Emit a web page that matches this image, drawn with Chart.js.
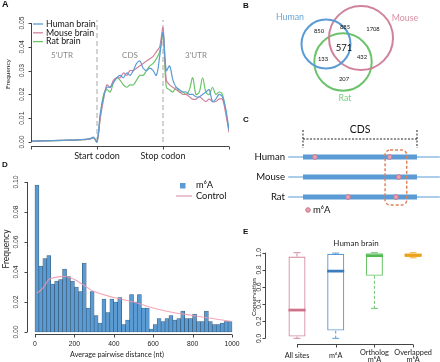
<!DOCTYPE html>
<html><head><meta charset="utf-8">
<script src="https://cdn.jsdelivr.net/npm/chart.js@4.4.0/dist/chart.umd.min.js"></script>
<style>
html,body{margin:0;padding:0;background:#fff;width:440px;height:362px;overflow:hidden;position:relative}
canvas{position:absolute}
</style></head><body>
<canvas id="cA" width="235" height="170" style="left:0px;top:0px"></canvas>
<canvas id="cD" width="240" height="204" style="left:0px;top:158px"></canvas>
<canvas id="cB" width="200" height="110" style="left:240px;top:0px"></canvas>
<canvas id="cC" width="200" height="110" style="left:240px;top:110px"></canvas>
<canvas id="cE" width="200" height="142" style="left:240px;top:220px"></canvas>
<script>
// ---------------- DATA ----------------
// Panel A: metagene profile (0-1 5'UTR, 1-2 CDS, 2-3 3'UTR)
const metaPos = [0,0.05,0.1,0.15,0.2,0.25,0.3,0.35,0.4,0.45,0.5,0.55,0.6,0.65,0.7,0.75,0.8,0.85,0.9,0.95,1,1.05,1.1,1.15,1.2,1.25,1.3,1.35,1.4,1.45,1.5,1.55,1.6,1.65,1.7,1.75,1.8,1.85,1.9,1.95,2,2.05,2.1,2.15,2.2,2.25,2.3,2.35,2.4,2.45,2.5,2.55,2.6,2.65,2.7,2.75,2.8,2.85,2.9,2.95,3];
const humanBrain = [0.0004,0.0004,0.0005,0.0005,0.0005,0.0006,0.0006,0.0006,0.0007,0.0007,0.0007,0.0008,0.0008,0.0008,0.0009,0.0010,0.0011,0.0012,0.0015,0.0020,0.0000,
  0.012,0.019,0.023,0.023,0.025,0.027,0.028,0.027,0.029,0.028,0.030,0.033,0.034,0.031,0.030,0.031,0.030,0.028,0.036,0.046,
  0.030,0.032,0.026,0.023,0.022,0.021,0.021,0.020,0.020,0.019,0.019,0.020,0.021,0.022,0.017,0.018,0.020,0.019,0.014,0.005];
const mouseBrain = [0.0003,0.0004,0.0004,0.0005,0.0005,0.0005,0.0006,0.0006,0.0006,0.0007,0.0007,0.0007,0.0008,0.0008,0.0009,0.0009,0.0010,0.0011,0.0013,0.0018,0.0002,
  0.010,0.018,0.024,0.023,0.026,0.027,0.027,0.029,0.028,0.030,0.030,0.031,0.032,0.033,0.034,0.035,0.036,0.038,0.040,0.048,
  0.026,0.024,0.023,0.022,0.021,0.020,0.020,0.019,0.018,0.018,0.019,0.018,0.017,0.018,0.017,0.017,0.018,0.018,0.012,0.004];
const ratBrain = [0.0003,0.0003,0.0004,0.0004,0.0005,0.0005,0.0005,0.0006,0.0006,0.0006,0.0007,0.0007,0.0008,0.0008,0.0008,0.0009,0.0010,0.0011,0.0013,0.0017,0.0001,
  0.011,0.020,0.022,0.021,0.025,0.027,0.026,0.024,0.023,0.024,0.024,0.026,0.028,0.028,0.030,0.032,0.033,0.035,0.038,0.045,
  0.023,0.022,0.021,0.023,0.021,0.021,0.020,0.022,0.027,0.020,0.021,0.027,0.021,0.020,0.023,0.020,0.021,0.020,0.013,0.005];
const aYTicks = [0,0.01,0.02,0.03,0.04,0.05];
const aXTicks = [0,1,2,3];
const aXTickLabels = ['','Start codon','Stop codon',''];
const aRegions = ["5'UTR",'CDS',"3'UTR"];

// Panel B: Venn counts
const vennSets = ['Human','Mouse','Rat'];
const vennRegions = ['Human only','Human+Mouse','Mouse only','All three','Human+Rat','Mouse+Rat','Rat only'];
const vennCounts = [850,885,1708,571,133,432,207];

// Panel C: schematic
const geneRows = ['Human','Mouse','Rat'];
const cdsRange = [0,100];
const transcriptRange = [-13,120];
const m6aSites = [[10.5,76],[84],[39.5,81.6]];
const conservedWindow = [72,91];

// Panel D: histogram of average pairwise distance
const binStart = [0,20,40,60,80,100,120,140,160,180,200,220,240,260,280,300,320,340,360,380,400,420,440,460,480,500,520,540,560,580,600,620,640,660,680,700,720,740,760,780,800,820,840,860,880,900,920,940,960,980];
const m6aFreq = [0.098,0.044,0.049,0.051,0.032,0.034,0.035,0.042,0.037,0.034,0.030,0.027,0.046,0.016,0.027,0.011,0.006,0.022,0.013,0.022,0.020,0.023,0.005,0.008,0.025,0.020,0.025,0.016,0.016,0.002,0.005,0.009,0.007,0.009,0.011,0.008,0.009,0.014,0.009,0.009,0.012,0.007,0.007,0.014,0.007,0.005,0.005,0.006,0.007,0.007];
const controlDist = [10,30,50,70,90,150,200,250,300,400,500,600,700,800,900,1000];
const controlFreq = [0.026,0.028,0.031,0.035,0.036,0.037,0.035,0.031,0.027,0.023,0.020,0.016,0.013,0.011,0.009,0.007];
const dYTicks = [0,0.02,0.04,0.06,0.08,0.10];
const dXTicks = [0,200,400,600,800,1000];

// Panel E: conservation box plots (Human brain)
const boxGroups = [['All sites'],['m\u2076A'],['Ortholog','m\u2076A'],['Overlapped','m\u2076A']];
const boxMin = [0.00,0.00,0.35,0.94];
const boxQ1 = [0.02,0.09,0.73,0.95];
const boxMedian = [0.33,0.785,0.965,0.972];
const boxQ3 = [0.955,0.985,0.995,0.99];
const boxMax = [1.00,0.995,1.00,1.00];
const eYTicks = [0,0.2,0.4,0.6,0.8,1.0];

// ---------------- STYLE ----------------
const C_H='#5b9bd5', C_M='#d0829a', C_R='#6cc36c', C_O='#f2b234';
const NUM='"Liberation Sans", Arial, sans-serif';
const LAB='Lato, "Open Sans", sans-serif';
Chart.defaults.animation=false;
const base = (pad)=>({responsive:false,animation:false,events:[],layout:{padding:pad,autoPadding:false},
  plugins:{legend:{display:false},tooltip:{enabled:false},title:{display:false}}});

function T(ctx,s,x,y,o={}){ctx.save();ctx.font=o.font||('8px '+LAB);ctx.fillStyle=o.color||'#222';
  ctx.textAlign=o.align||'center';ctx.textBaseline=o.base||'middle';ctx.translate(x,y);if(o.rot)ctx.rotate(o.rot);
  ctx.fillText(s,0,0);ctx.restore();}
function axisY(c,ticks,labels,o){const ctx=c.ctx,ys=c.scales.y,x0=Math.round(c.chartArea.left)+0.5;
  ctx.save();ctx.strokeStyle='#444';ctx.lineWidth=1;ctx.beginPath();
  ctx.moveTo(x0,ys.getPixelForValue(ticks[0]));ctx.lineTo(x0,ys.getPixelForValue(ticks[ticks.length-1]));
  ticks.forEach(t=>{const p=Math.round(ys.getPixelForValue(t))+0.5;ctx.moveTo(x0,p);ctx.lineTo(x0-o.len,p);});
  ctx.stroke();ctx.restore();
  ticks.forEach((t,i)=>T(ctx,labels[i],x0-o.off,ys.getPixelForValue(t),{font:o.font,color:'#333',rot:-Math.PI/2}));}
function axisX(c,ticks,labels,o){const ctx=c.ctx,xs=c.scales.x,y0=Math.round(c.chartArea.bottom)-0.5;
  ctx.save();ctx.strokeStyle='#444';ctx.lineWidth=1;ctx.beginPath();
  ctx.moveTo(xs.getPixelForValue(ticks[0]),y0);ctx.lineTo(xs.getPixelForValue(ticks[ticks.length-1]),y0);
  ticks.forEach(t=>{const p=Math.round(xs.getPixelForValue(t))+0.5;ctx.moveTo(p,y0);ctx.lineTo(p,y0+o.len);});
  ctx.stroke();ctx.restore();
  ticks.forEach((t,i)=>{const lab=labels[i];if(!lab)return;const L=Array.isArray(lab)?lab:[lab];
    L.forEach((s,j)=>T(ctx,s,xs.getPixelForValue(t),y0+o.off+(j-(L.length-1)/2)*(o.lh||8),{font:o.font,color:'#222'}));});}

// ---------------- PANEL A ----------------
const decoA={id:'decoA',afterDraw(c){const ctx=c.ctx,xs=c.scales.x,ys=c.scales.y;
  axisY(c,aYTicks,aYTicks.map(v=>v.toFixed(2)),{len:3,off:9,font:'6.8px '+NUM});
  axisX(c,aXTicks,aXTickLabels,{len:3,off:10,font:'9px '+LAB});
  T(ctx,'Frequency',8,74,{rot:-Math.PI/2,font:'6.5px '+LAB});
  const rp=[0.47,1.5,2.5];
  aRegions.forEach((r,i)=>T(ctx,r,xs.getPixelForValue(rp[i]),ys.getPixelForValue(0.0365),{font:'8px '+LAB,color:'#888'}));
  c.data.datasets.slice(0,3).forEach((d,i)=>{const y=24+i*8.8;ctx.save();ctx.strokeStyle=d.borderColor;ctx.lineWidth=1.3;
    ctx.beginPath();ctx.moveTo(33,y);ctx.lineTo(43,y);ctx.stroke();ctx.restore();
    T(ctx,d.label,46,y,{align:'left',font:'8.8px '+LAB,color:'#111'});});
  T(ctx,'A',2,5,{align:'left',font:'bold 9px '+NUM,color:'#111'});}};
const pts=(xs,ys)=>xs.map((x,i)=>({x,y:ys[i]}));
new Chart(document.getElementById('cA'),{type:'line',
  data:{datasets:[
    {label:'Human brain',data:pts(metaPos,humanBrain),borderColor:C_H,borderWidth:1.2,pointRadius:0,tension:0.35},
    {label:'Mouse brain',data:pts(metaPos,mouseBrain),borderColor:C_M,borderWidth:1.2,pointRadius:0,tension:0.35},
    {label:'Rat brain',data:pts(metaPos,ratBrain),borderColor:C_R,borderWidth:1.2,pointRadius:0,tension:0.35},
    {label:'start',data:[{x:1,y:0},{x:1,y:0.0513}],borderColor:'#a8a8a8',borderWidth:1,borderDash:[5,3],pointRadius:0},
    {label:'stop',data:[{x:2,y:0},{x:2,y:0.0513}],borderColor:'#a8a8a8',borderWidth:1,borderDash:[5,3],pointRadius:0}]},
  options:Object.assign(base({left:31,top:18,right:6,bottom:23}),{
    scales:{x:{type:'linear',min:0,max:3,display:false},y:{type:'linear',min:-0.0021,max:0.0521,display:false}}}),
  plugins:[decoA]});

// ---------------- PANEL B ----------------
const vennCircles=[{x:86,y:44,r:24.5},{x:121,y:38,r:32},{x:103,y:62,r:28.7}];
const vennLabelPos=[[50,17],[165,18],[105,98]];
const vennCountPos=[[79,31],[105,27],[133,29],[104,48],[83,59],[122,57],[104,79]];
const decoB={id:'decoB',afterDraw(c){const ctx=c.ctx,xs=c.scales.x,ys=c.scales.y;
  const tc=['#6aa6d8','#d98fa3','#7ccd7c'];
  vennSets.forEach((s,i)=>T(ctx,s,xs.getPixelForValue(vennLabelPos[i][0]),ys.getPixelForValue(vennLabelPos[i][1]),{font:'8.8px '+LAB,color:tc[i]}));
  vennCounts.forEach((n,i)=>T(ctx,String(n),xs.getPixelForValue(vennCountPos[i][0]),ys.getPixelForValue(vennCountPos[i][1]),{font:(i===3?'9.5px ':'5.8px ')+LAB,color:'#111'}));
  T(ctx,'B',3,6,{align:'left',font:'bold 8px '+NUM,color:'#111'});}};
new Chart(document.getElementById('cB'),{type:'bubble',
  data:{datasets:vennSets.map((s,i)=>({label:s,data:[vennCircles[i]],backgroundColor:'rgba(0,0,0,0)',
    borderColor:[C_H,C_M,C_R][i],borderWidth:2,hoverRadius:0}))},
  options:Object.assign(base(0),{scales:{x:{type:'linear',min:0,max:200,display:false},y:{type:'linear',min:0,max:110,reverse:true,display:false}}}),
  plugins:[decoB]});

// ---------------- PANEL C ----------------
const decoC={id:'decoC',afterDraw(c){const ctx=c.ctx,xs=c.scales.x,ys=c.scales.y;
  geneRows.forEach((g,i)=>T(ctx,g,45,ys.getPixelForValue(i),{align:'right',font:'9.6px '+LAB,color:'#111'}));
  T(ctx,'CDS',xs.getPixelForValue(50),ys.getPixelForValue(-1.38),{font:'10.5px '+LAB,color:'#111'});
  const x1=xs.getPixelForValue(conservedWindow[0]),x2=xs.getPixelForValue(conservedWindow[1]);
  const y1=ys.getPixelForValue(-0.35),y2=ys.getPixelForValue(2.4);
  ctx.save();ctx.strokeStyle='#e07f55';ctx.lineWidth=1.4;ctx.setLineDash([3,2]);ctx.beginPath();ctx.roundRect(x1,y1,x2-x1,y2-y1,5);ctx.stroke();ctx.restore();
  ctx.save();ctx.fillStyle='#e3a0b0';ctx.strokeStyle='#c97a8e';ctx.beginPath();ctx.arc(68,100,2.3,0,Math.PI*2);ctx.fill();ctx.stroke();ctx.restore();
  T(ctx,'m\u2076A',73,100,{align:'left',font:'9.5px '+LAB,color:'#111'});
  T(ctx,'C',3,10,{align:'left',font:'bold 8px '+NUM,color:'#111'});}};
const cDatasets=[];
cDatasets.push({label:'m6A',data:m6aSites.flatMap((a,i)=>a.map(x=>({x,y:i}))),showLine:false,pointRadius:2.4,
  pointBackgroundColor:'#e6a3b3',pointBorderColor:'#c7788d',pointBorderWidth:1});
geneRows.forEach((g,i)=>cDatasets.push({label:g+' CDS',data:[{x:cdsRange[0],y:i},{x:cdsRange[1],y:i}],borderColor:C_H,borderWidth:5,pointRadius:0,borderCapStyle:'butt'}));
geneRows.forEach((g,i)=>cDatasets.push({label:g,data:[{x:transcriptRange[0],y:i},{x:transcriptRange[1],y:i}],borderColor:C_H,borderWidth:1.2,pointRadius:0}));
cDatasets.push({label:'CDS bracket',data:[{x:0,y:-1.35},{x:0,y:-0.45},{x:0,y:null},{x:0,y:-0.9},{x:100,y:-0.9},{x:100,y:null},{x:100,y:-1.35},{x:100,y:-0.45}],
  borderColor:'#222',borderWidth:1,borderDash:[2,1.5],pointRadius:0,spanGaps:false});
new Chart(document.getElementById('cC'),{type:'line',data:{datasets:cDatasets},
  options:Object.assign(base(0),{scales:{x:{type:'linear',min:-55.26,max:120.18,display:false},y:{type:'linear',min:-2.35,max:3.15,reverse:true,display:false}}}),
  plugins:[decoC]});

// ---------------- PANEL D ----------------
const decoD={id:'decoD',afterDraw(c){const ctx=c.ctx;
  axisY(c,dYTicks,dYTicks.map(v=>v.toFixed(2)),{len:3,off:11,font:'6.8px '+NUM});
  axisX(c,dXTicks,dXTicks.map(String),{len:3,off:10,font:'6.8px '+NUM});
  T(ctx,'Frequency',6,91,{rot:-Math.PI/2,font:'8.5px '+LAB});
  T(ctx,'Average pairwise distance (nt)',117,197,{font:'7.2px '+LAB});
  ctx.save();ctx.fillStyle=C_H;ctx.fillRect(180,25,5.5,5.5);ctx.strokeStyle=C_M;ctx.lineWidth=1.2;ctx.globalAlpha=0.8;
  ctx.beginPath();ctx.moveTo(176,38);ctx.lineTo(192,38);ctx.stroke();ctx.restore();
  T(ctx,'m\u2076A',196,27,{align:'left',font:'9.3px '+LAB,color:'#111'});
  T(ctx,'Control',196,38,{align:'left',font:'9.3px '+LAB,color:'#111'});
  T(ctx,'D',2,7,{align:'left',font:'bold 8px '+NUM,color:'#111'});}};
new Chart(document.getElementById('cD'),{type:'bar',
  data:{datasets:[
    {type:'line',label:'Control',data:pts(controlDist,controlFreq),borderColor:'rgba(240,150,170,0.85)',borderWidth:1.2,pointRadius:0,tension:0.4},
    {type:'bar',label:'m6A',data:binStart.map((b,i)=>({x:b+10,y:m6aFreq[i]})),backgroundColor:'#5b9bd3',borderColor:'#34536f',borderWidth:0.6,
     barPercentage:1,categoryPercentage:1,borderSkipped:false}]},
  options:Object.assign(base({left:27,top:22,right:4,bottom:27}),{
    scales:{x:{type:'linear',min:-40.6,max:1020.3,offset:false,display:false},y:{type:'linear',min:-0.002,max:0.10133,display:false}}}),
  plugins:[decoD]});

// ---------------- PANEL E ----------------
const boxCol=['#d4879b','#5b9bd5','#6cc36c','#f2b234'];
const medCol=['#d0708a','#3a7dbf','#52b852','#eaa21c'];
const decoE={id:'decoE',afterDraw(c){const ctx=c.ctx;
  axisY(c,eYTicks,eYTicks.map(v=>v.toFixed(1)),{len:3,off:6.5,font:'6.6px '+NUM});
  axisX(c,[1,2,3,4],boxGroups,{len:3,off:11.5,font:'7.3px '+LAB,lh:7.5});
  T(ctx,'Conservation',13.5,77,{rot:-Math.PI/2,font:'6.5px '+LAB});
  T(ctx,'Human brain',116,23,{font:'8px '+LAB});
  T(ctx,'E',3,12,{align:'left',font:'bold 8px '+NUM,color:'#111'});}};
const eDatasets=[];
eDatasets.push({type:'bar',label:'median',data:boxMedian.map((m,i)=>({x:i+1,y:[m-0.016,m+0.016]})),backgroundColor:medCol,borderWidth:0,
  barPercentage:0.44,categoryPercentage:1,grouped:false});
eDatasets.push({type:'bar',label:'IQR',data:boxQ1.map((q,i)=>({x:i+1,y:[q,boxQ3[i]]})),backgroundColor:'rgba(0,0,0,0)',borderColor:boxCol,borderWidth:1.1,
  borderSkipped:false,barPercentage:0.44,categoryPercentage:1,grouped:false});
boxQ1.forEach((q,i)=>{const x=i+1;
  eDatasets.push({type:'line',label:'whisker',data:[{x,y:boxQ3[i]},{x,y:boxMax[i]},{x,y:null},{x,y:q},{x,y:boxMin[i]}],
    borderColor:boxCol[i],borderWidth:1,borderDash:[3,2],pointRadius:0,spanGaps:false});
  eDatasets.push({type:'line',label:'cap',data:[{x:x-0.09,y:boxMax[i]},{x:x+0.09,y:boxMax[i]},{x,y:null},{x:x-0.09,y:boxMin[i]},{x:x+0.09,y:boxMin[i]}],
    borderColor:boxCol[i],borderWidth:1,pointRadius:0,spanGaps:false});});
new Chart(document.getElementById('cE'),{type:'bar',data:{datasets:eDatasets},
  options:Object.assign(base({left:25,top:28,right:0,bottom:17}),{
    scales:{x:{type:'linear',min:0.173,max:4.695,offset:false,display:false},y:{type:'linear',min:-0.078,max:1.055,display:false}}}),
  plugins:[decoE]});
</script>
</body></html>
